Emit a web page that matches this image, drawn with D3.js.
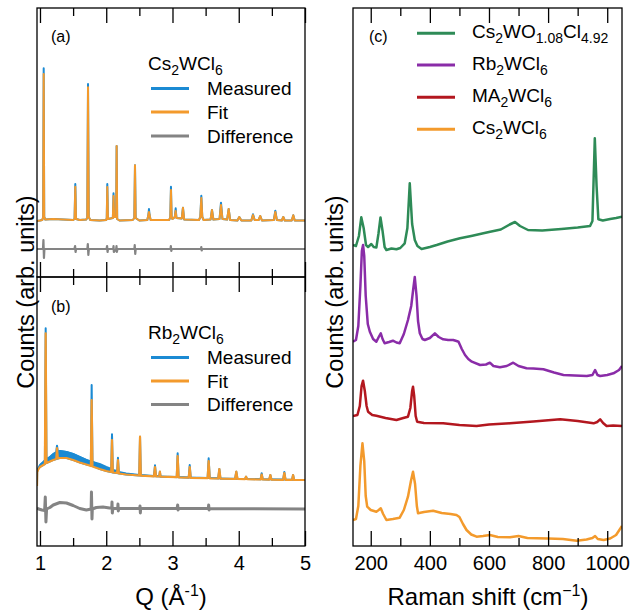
<!DOCTYPE html>
<html>
<head>
<meta charset="utf-8">
<script src="https://cdn.jsdelivr.net/npm/d3@7"></script>
<style>
body { margin: 0; background: #fff; }
text { font-family: "Liberation Sans", Arial, sans-serif; fill: #000; }
</style>
</head>
<body>
<svg width="635" height="612"></svg>
<script>
// ---- data (arbitrary units) ----
// XRD (a) Cs2WCl6 : [Q, measured, fit]
const patternA = [
  [0.955, 56, 56], [1.0, 56.5, 56.5], [1.035, 57, 57], [1.048, 60, 60], [1.056, 208.7, 203], [1.064, 60, 60],
  [1.08, 57.5, 57.5], [1.2, 58, 58], [1.35, 57.5, 57.5], [1.5, 57, 57], [1.522, 58, 58], [1.533, 93, 90.3],
  [1.544, 58, 58], [1.6, 57, 57], [1.7, 57.5, 57.5], [1.714, 60, 60], [1.725, 193, 189.7], [1.736, 60, 60],
  [1.76, 57, 57], [1.9, 56.5, 56.5], [2.0, 57, 57], [2.008, 59, 59], [2.016, 93, 90], [2.026, 58, 58],
  [2.1, 59, 59], [2.11, 83.7, 81], [2.12, 60, 60], [2.15, 60, 60], [2.157, 131, 131], [2.165, 58, 58],
  [2.2, 56.5, 56.5], [2.4, 57, 57], [2.424, 59, 59], [2.434, 111.7, 111.7], [2.444, 59, 59], [2.5, 56.5, 56.5],
  [2.62, 57, 57], [2.636, 62, 62], [2.645, 68, 65], [2.654, 62, 62], [2.67, 57, 57], [2.95, 57, 57],
  [2.967, 60, 60], [2.977, 90.3, 87], [2.987, 60, 60], [3.0, 58, 58], [3.035, 60, 60], [3.048, 68.7, 66],
  [3.06, 59, 59], [3.14, 58.5, 58.5], [3.158, 69.3, 69.3], [3.176, 57.5, 57.5], [3.4, 57, 57], [3.42, 60, 60],
  [3.435, 81.3, 79], [3.45, 60, 60], [3.47, 57, 57], [3.575, 57.5, 57.5], [3.596, 67, 67], [3.617, 57.5, 57.5],
  [3.71, 58, 58], [3.732, 74.3, 72], [3.754, 58, 58], [3.825, 57.5, 57.5], [3.848, 68, 68], [3.87, 57, 57],
  [3.98, 56.5, 56.5], [4.008, 60, 60], [4.04, 56.5, 56.5], [4.19, 56.5, 56.5], [4.215, 62.7, 62], [4.24, 57, 57],
  [4.3, 57, 57], [4.325, 61, 61], [4.35, 56.5, 56.5], [4.53, 57, 57], [4.552, 66.3, 65], [4.575, 57, 57],
  [4.65, 56.5, 56.5], [4.672, 60, 60], [4.695, 56.5, 56.5], [4.8, 56.5, 56.5], [4.823, 61.7, 61.7],
  [4.845, 56.5, 56.5], [5.0, 56.5, 56.5]
];
const diffA = [
  [0.955, 28], [1.045, 28], [1.052, 37], [1.06, 19], [1.067, 28], [1.52, 28], [1.53, 31], [1.537, 25],
  [1.545, 28], [1.715, 28], [1.722, 33], [1.73, 22], [1.738, 28], [2.005, 28], [2.013, 31], [2.02, 25],
  [2.027, 28], [2.105, 28], [2.11, 31], [2.115, 25], [2.15, 28], [2.155, 31], [2.16, 25], [2.17, 28],
  [2.425, 28], [2.43, 32], [2.438, 23], [2.445, 28], [2.97, 28], [2.975, 31], [2.982, 26], [2.99, 28],
  [3.43, 28], [3.435, 30], [3.44, 26.5], [3.45, 28], [5.0, 28]
];

// XRD (b) Rb2WCl6 : [Q, measured, fit]
const patternB = [
  [0.955, 60, 60], [0.958, 74, 74], [0.97, 77, 76], [1.0, 81, 79], [1.05, 84, 81], [1.074, 86, 82],
  [1.086, 217.7, 212.7], [1.098, 86, 83], [1.15, 89, 84.5], [1.2, 92, 86], [1.245, 94, 87], [1.257, 100.3, 98],
  [1.27, 94, 87.5], [1.3, 95, 88], [1.4, 94, 88], [1.5, 92, 86], [1.6, 89, 83.5], [1.7, 86, 81.5],
  [1.768, 84, 80], [1.78, 161, 146], [1.792, 84, 79.5], [1.9, 82, 77], [2.0, 79, 75], [2.075, 77, 74],
  [2.087, 111.7, 106], [2.099, 76, 73.5], [2.165, 75, 73], [2.177, 88.3, 86], [2.19, 74, 72.5], [2.3, 72.5, 71.5],
  [2.498, 71, 70.5], [2.51, 109.3, 109.3], [2.522, 71, 70.3], [2.72, 70, 69.7], [2.736, 80.7, 79], [2.752, 70, 69.5],
  [2.8, 70, 69.5], [2.81, 74.3, 74.3], [2.82, 69.5, 69.3], [3.064, 69, 68.8], [3.078, 92.7, 90], [3.092, 69, 68.7],
  [3.245, 68.5, 68.3], [3.26, 81, 79], [3.275, 68.5, 68.2], [3.53, 68, 67.8], [3.546, 87.7, 85], [3.562, 68, 67.7],
  [3.69, 67.7, 67.5], [3.707, 77, 77], [3.724, 67.5, 67.3], [3.945, 67.3, 67], [3.963, 74.3, 74.3], [3.981, 67.2, 67],
  [4.095, 67, 66.8], [4.11, 69.3, 69.3], [4.125, 67, 66.8], [4.33, 66.8, 66.5], [4.346, 72.7, 71.5], [4.362, 66.8, 66.5],
  [4.46, 66.6, 66.4], [4.477, 71, 71], [4.494, 66.5, 66.3], [4.67, 66.4, 66.2], [4.688, 74, 73], [4.706, 66.4, 66.2],
  [4.805, 66.3, 66.1], [4.82, 71, 71], [4.835, 66.2, 66], [5.0, 66, 66]
];
// spread of the noisy measured curve in (b): [Q, low, high]
const noiseB = [
  [0.96, 74, 76], [1.0, 78, 82], [1.05, 80, 85], [1.1, 82, 88], [1.15, 83.5, 90], [1.2, 85, 93], [1.3, 87, 96],
  [1.4, 87, 95], [1.5, 85, 93], [1.6, 82.5, 90], [1.7, 80.5, 87], [1.8, 79, 85], [1.9, 76, 82], [2.0, 74, 79],
  [2.1, 72.5, 76], [2.2, 71.5, 74], [2.3, 70.5, 73], [2.5, 69.5, 71.5], [3.0, 68, 69.8], [4.0, 66.3, 67.8],
  [5.0, 65.3, 66.8]
];
const diffB = [
  [0.955, 38], [0.98, 37], [1.03, 36], [1.07, 35.5], [1.08, 49], [1.09, 24], [1.1, 37], [1.15, 38.5], [1.2, 41],
  [1.3, 43.5], [1.4, 43], [1.5, 40.5], [1.6, 37.5], [1.7, 36], [1.772, 37], [1.777, 54], [1.785, 27], [1.79, 37],
  [1.85, 38.5], [1.95, 39], [2.05, 38], [2.083, 38], [2.087, 44], [2.092, 33], [2.1, 37.5], [2.173, 37.5],
  [2.177, 42], [2.182, 35], [2.19, 37.5], [2.3, 37.5], [2.505, 37.5], [2.51, 40], [2.515, 33], [2.52, 37.5],
  [3.07, 37.5], [3.078, 41], [3.085, 36], [3.09, 37.5], [3.54, 37.5], [3.546, 41], [3.552, 36], [3.56, 37.5],
  [5.0, 37]
];

// Raman (c): [shift cm-1, counts]
const ramanCsWOCl = [
  [140, 301], [150, 300], [160, 310], [168, 328.7], [176, 318], [184, 301], [191, 299], [202, 302], [210, 299],
  [219, 298.5], [226, 312], [233, 328.5], [240, 315], [247, 299], [253, 296], [270, 297.5], [287, 296.7],
  [300, 298], [315, 302.7], [324, 318], [332, 362.7], [340, 322], [349, 306], [358, 300], [366, 298.3],
  [372, 297], [400, 299], [423, 301], [460, 304.5], [502, 307.7], [540, 310], [581, 312.7], [604, 314.3],
  [640, 316.5], [670, 321.5], [688, 324], [705, 320], [732, 316], [780, 315.5], [845, 317], [900, 318.5],
  [942, 320], [950, 325], [958, 407.7], [964, 360], [970, 326.7], [985, 325.5], [1010, 327], [1030, 328],
  [1050, 329.3]
];
const ramanRb = [
  [140, 204.3], [150, 206], [158, 220], [165, 260], [170, 295], [174, 301], [178, 290], [183, 250], [190, 222],
  [197, 214.3], [208, 207], [219, 204.3], [227, 209], [234, 212.7], [240, 207], [247, 202.7], [262, 204],
  [275, 205.3], [287, 203.5], [298, 202.7], [312, 212], [326, 226], [337, 240], [343, 255], [349, 269],
  [355, 250], [360, 225], [366, 212.7], [375, 207], [383, 206], [400, 208], [417, 212.7], [430, 209],
  [445, 206.7], [462, 206], [479, 206], [490, 205], [497, 204.3], [508, 197], [519, 191], [530, 187],
  [542, 184.3], [570, 181], [590, 181.5], [603, 183.3], [615, 180], [637, 178.7], [660, 180], [682, 183.3],
  [700, 180], [727, 177.7], [750, 177.5], [784, 176.7], [820, 173.5], [852, 171], [890, 170.5], [931, 170],
  [950, 171], [959, 176], [967, 171], [976, 170], [1000, 171], [1021, 172.7], [1040, 176], [1050, 180]
];
const ramanMA = [
  [140, 130], [155, 131], [163, 140], [169, 160], [174, 165.3], [180, 155], [186, 140], [191, 134.3], [205, 131],
  [219, 130.3], [250, 128], [287, 126], [310, 128], [326, 129.3], [334, 138], [340, 155], [343, 159.3],
  [347, 150], [352, 130], [357, 124.3], [380, 123], [445, 122.7], [500, 121], [558, 120], [600, 121.5],
  [671, 122.7], [750, 124.5], [841, 126.7], [900, 125], [954, 122.7], [966, 124], [976, 126.7], [986, 123],
  [998, 120], [1020, 120.5], [1050, 120]
];
const ramanCs = [
  [140, 26], [150, 27], [158, 40], [165, 80], [172, 102.7], [178, 85], [183, 50], [188, 39.3], [200, 36],
  [219, 34.3], [227, 36], [234, 37.7], [242, 32], [253, 26], [275, 27], [298, 28.3], [312, 36], [326, 49.3],
  [336, 65], [343, 74.3], [350, 62], [356, 40], [360, 32.7], [380, 34], [411, 35.3], [440, 33], [470, 32],
  [490, 31], [500, 29], [512, 22], [524, 16], [540, 11.5], [558, 9.3], [580, 10], [603, 11], [630, 9],
  [671, 8.7], [700, 10], [730, 8], [762, 7.7], [800, 7.5], [850, 7], [897, 5.3], [930, 6.5], [950, 8],
  [959, 10], [968, 7], [988, 6], [1010, 7.5], [1030, 11], [1050, 20]
];

const qMajor = [1, 2, 3, 4, 5];
const qMinor = [1.5, 2.5, 3.5, 4.5];
const ramanMajor = [200, 400, 600, 800, 1000];
const ramanMinor = [300, 500, 700, 900];

// legend labels: [text, subscript?]
const xrdNames = ['Measured', 'Fit', 'Difference'];
const ramanLabels = [
  [['Cs', 0], ['2', 1], ['WO', 0], ['1.08', 1], ['Cl', 0], ['4.92', 1]],
  [['Rb', 0], ['2', 1], ['WCl', 0], ['6', 1]],
  [['MA', 0], ['2', 1], ['WCl', 0], ['6', 1]],
  [['Cs', 0], ['2', 1], ['WCl', 0], ['6', 1]]
];

const blue = '#1b8ad3';
const orange = '#f39a2c';
const gray = '#848484';
const ramanColors = ['#2e8b57', '#8a2ca8', '#b3171f', '#f39a2c'];

// ---- scales ----
const xQ = d3.scaleLinear().domain([0.955, 5]).range([37, 305]);
const yA = d3.scaleLinear().domain([0, 269]).range([277, 8]);
const yB = d3.scaleLinear().domain([0, 269]).range([546, 277]);
const xR = d3.scaleLinear().domain([140, 1050]).range([353, 622]);
const yR = d3.scaleLinear().domain([0, 538]).range([546, 8]);

const svg = d3.select('svg');
const defs = svg.append('defs');
[['clipA', 37, 8, 268, 269], ['clipB', 37, 277, 268, 269], ['clipC', 353, 8, 269, 538]].forEach(c => {
  defs.append('clipPath').attr('id', c[0]).append('rect')
    .attr('x', c[1]).attr('y', c[2]).attr('width', c[3]).attr('height', c[4]);
});

function curve(clip, data, x, y, i, color, w) {
  svg.append('path')
    .datum(data)
    .attr('clip-path', 'url(#' + clip + ')')
    .attr('fill', 'none')
    .attr('stroke', color)
    .attr('stroke-width', w)
    .attr('stroke-linejoin', 'round')
    .attr('d', d3.line().x(d => x(d[0])).y(d => y(d[i])));
}

// panel (a)
curve('clipA', diffA, xQ, yA, 1, gray, 2.2);
curve('clipA', patternA, xQ, yA, 1, blue, 2);
curve('clipA', patternA, xQ, yA, 2, orange, 2);

// panel (b)
svg.append('path')
  .datum(noiseB)
  .attr('clip-path', 'url(#clipB)')
  .attr('fill', blue)
  .attr('d', d3.area().x(d => xQ(d[0])).y0(d => yB(d[1])).y1(d => yB(d[2])));
curve('clipB', diffB, xQ, yB, 1, gray, 3);
curve('clipB', patternB, xQ, yB, 1, blue, 2);
curve('clipB', patternB, xQ, yB, 2, orange, 2.2);

// panel (c)
[ramanCsWOCl, ramanRb, ramanMA, ramanCs].forEach((s, k) => {
  curve('clipC', s, xR, yR, 1, ramanColors[k], 2.5);
});

// frames
[[37, 8, 268, 269], [37, 277, 268, 269], [353, 8, 269, 538]].forEach(r => {
  svg.append('rect')
    .attr('x', r[0]).attr('y', r[1]).attr('width', r[2]).attr('height', r[3])
    .attr('fill', 'none').attr('stroke', '#000').attr('stroke-width', 1.3);
});

// inward ticks on top and bottom edges
function edgeTicks(x, yBottom, yTop, major, minor) {
  [[major, 15], [minor, 8]].forEach(([vals, len]) => {
    svg.append('g')
      .attr('transform', 'translate(0,' + yBottom + ')')
      .call(d3.axisBottom(x).tickValues(vals).tickSize(-len).tickSizeOuter(0).tickFormat(''))
      .call(g => g.select('.domain').remove())
      .selectAll('line').attr('stroke-width', 1.3);
    svg.append('g')
      .attr('transform', 'translate(0,' + yTop + ')')
      .call(d3.axisTop(x).tickValues(vals).tickSize(-len).tickSizeOuter(0).tickFormat(''))
      .call(g => g.select('.domain').remove())
      .selectAll('line').attr('stroke-width', 1.3);
  });
}
edgeTicks(xQ, 277, 8, qMajor, qMinor);
edgeTicks(xQ, 546, 277, qMajor, qMinor);
edgeTicks(xR, 546, 8, ramanMajor, ramanMinor);

function tickLabels(x, vals) {
  svg.append('g')
    .attr('transform', 'translate(0,546)')
    .call(d3.axisBottom(x).tickValues(vals).tickSize(0).tickPadding(10).tickFormat(d3.format('d')))
    .call(g => g.select('.domain').remove())
    .attr('font-family', null).attr('font-size', null)
    .selectAll('text').style('font-size', '20px');
}
tickLabels(xQ, qMajor);
tickLabels(xR, ramanMajor);

// axis titles
const qLabel = svg.append('text').attr('x', 171).attr('y', 605)
  .style('text-anchor', 'middle').style('font-size', '24px');
qLabel.append('tspan').text('Q (Å');
qLabel.append('tspan').attr('dy', -9).style('font-size', '16px').text('-1');
qLabel.append('tspan').attr('dy', 9).text(')');

const rLabel = svg.append('text').attr('x', 488).attr('y', 605)
  .style('text-anchor', 'middle').style('font-size', '24px');
rLabel.append('tspan').text('Raman shift (cm');
rLabel.append('tspan').attr('dy', -9).style('font-size', '16px').text('\u22121');
rLabel.append('tspan').attr('dy', 9).text(')');

[34, 343].forEach(yy => {
  svg.append('text')
    .attr('transform', 'rotate(-90)')
    .attr('x', -292)
    .attr('y', yy)
    .style('text-anchor', 'middle')
    .style('font-size', '23.5px')
    .text('Counts (arb. units)');
});

// panel letters
[['(a)', 51, 42], ['(b)', 51, 312], ['(c)', 369, 42]].forEach(p => {
  svg.append('text').attr('x', p[1]).attr('y', p[2]).style('font-size', '16px').text(p[0]);
});

function richText(x, y, parts, size, subSize) {
  const t = svg.append('text').attr('x', x).attr('y', y).style('font-size', size + 'px');
  let shifted = false;
  parts.forEach(([s, sub]) => {
    const sp = t.append('tspan').text(s);
    if (sub && !shifted) { sp.attr('dy', 5).style('font-size', subSize + 'px'); shifted = true; }
    else if (!sub && shifted) { sp.attr('dy', -5); shifted = false; }
    else if (sub) sp.style('font-size', subSize + 'px');
  });
}

// XRD legends
function xrdLegend(titleParts, yTitle, yRows) {
  richText(148, yTitle, titleParts, 19, 14);
  [blue, orange, gray].forEach((c, k) => {
    svg.append('line')
      .attr('x1', 151).attr('x2', 189).attr('y1', yRows[k]).attr('y2', yRows[k])
      .attr('stroke', c).attr('stroke-width', 3);
    svg.append('text').attr('x', 207).attr('y', yRows[k] + 6.5)
      .style('font-size', '19px').text(xrdNames[k]);
  });
}
xrdLegend(ramanLabels[3], 70, [88.5, 112, 136]);
xrdLegend(ramanLabels[1], 339, [357.5, 381, 404.5]);

// Raman legend
const ramanRows = [33.3, 65, 97.3, 129.3];
ramanLabels.forEach((parts, k) => {
  svg.append('line')
    .attr('x1', 417).attr('x2', 455).attr('y1', ramanRows[k]).attr('y2', ramanRows[k])
    .attr('stroke', ramanColors[k]).attr('stroke-width', 3);
  richText(472, ramanRows[k] + 4.5, parts, 19, 14);
});
</script>
</body>
</html>
